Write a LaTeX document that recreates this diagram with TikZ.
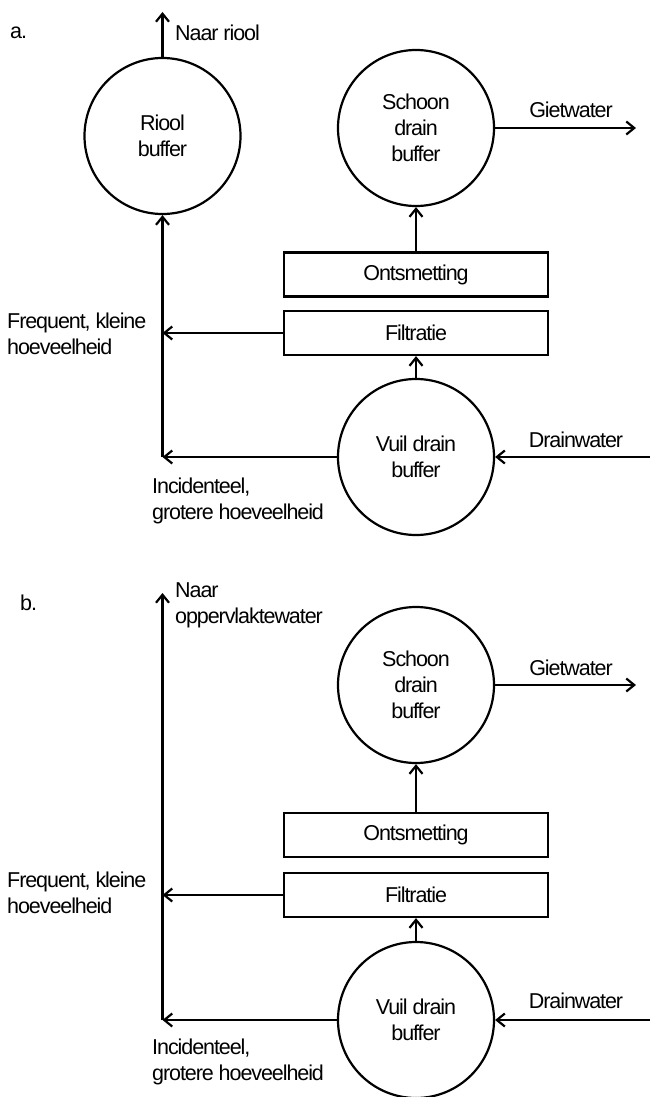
\documentclass[tikz,border=0pt]{standalone}
\usepackage{fontspec}
\setmainfont{Liberation Sans}[LetterSpace=-5]
\usetikzlibrary{arrows.meta}
\newcommand\dfont{\fontsize{21.5}{26}\selectfont}
\begin{document}
\begin{tikzpicture}[x=1pt,y=-1pt,
  buf/.style={circle,draw,line width=2.2pt,minimum size=156pt,inner sep=0pt,align=center,font=\dfont},
  proc/.style={rectangle,draw,line width=2.2pt,minimum width=264pt,minimum height=44pt,inner sep=0pt,font=\dfont},
  lbl/.style={inner sep=0pt,align=left,font=\dfont},
  arr/.style={line width=2.2pt,-{Straight Barb[length=8pt,width=13pt]}}
]
\useasboundingbox (0,0) rectangle (650,1097);

% ---------------- panel a ----------------
\node[lbl,anchor=west] (la) at (10,33) {a.};
\node[buf] (rioolA) at (162.5,136) {Riool\\buffer};
\node[buf] (schoonA) at (416,128) {Schoon\\drain\\buffer};
\node[proc] (ontA) at (416,274.5) {Ontsmetting};
\node[proc] (filA) at (416,333) {Filtratie};
\node[buf] (vuilA) at (416,457) {Vuil drain\\buffer};
\coordinate (cornerA) at (162.5,457);
\coordinate (naarA) at (162.5,12);
\coordinate (gietA) at (636,128);
\coordinate (drainA) at (651,457);
\coordinate (freqA) at (162.5,333);

\node[lbl,anchor=west] (tNaarA) at (175,33) {Naar riool};
\node[lbl] (tGietA) at (571,110) {Gietwater};
\node[lbl] (tDrainA) at (576,440) {Drainwater};
\node[lbl,anchor=west] (tFreqA) at (7,334) {Frequent, kleine\\hoeveelheid};
\node[lbl,anchor=west] (tIncA) at (152,501) {Incidenteel,\\grotere hoeveelheid};

\draw[arr] (rioolA.north) -- (naarA);
\draw[arr] (schoonA.east) -- (gietA);
\draw[arr] (ontA.north) -- (schoonA.south);
\draw[arr] (vuilA.north) -- (filA.south);
\draw[arr] (filA.west) -- (freqA);
\draw[arr] (vuilA.west) -- (cornerA);
\draw[arr] (cornerA) -- (rioolA.south);
\draw[arr] (drainA) -- (vuilA.east);

% ---------------- panel b ----------------
\node[lbl,anchor=west] (lb) at (20,603) {b.};
\node[buf] (schoonB) at (416,685) {Schoon\\drain\\buffer};
\node[proc] (ontB) at (416,835) {Ontsmetting};
\node[proc] (filB) at (416,895) {Filtratie};
\node[buf] (vuilB) at (416,1020) {Vuil drain\\buffer};
\coordinate (cornerB) at (162.5,1020);
\coordinate (naarB) at (162.5,593);
\coordinate (gietB) at (636,685);
\coordinate (drainB) at (651,1020);
\coordinate (freqB) at (162.5,895);

\node[lbl,anchor=west] (tNaarB) at (175,605.5) {Naar\\oppervlaktewater};
\node[lbl] (tGietB) at (571,668) {Gietwater};
\node[lbl] (tDrainB) at (576,1001) {Drainwater};
\node[lbl,anchor=west] (tFreqB) at (7,893) {Frequent, kleine\\hoeveelheid};
\node[lbl,anchor=west] (tIncB) at (152,1062) {Incidenteel,\\grotere hoeveelheid};

\draw[arr] (schoonB.east) -- (gietB);
\draw[arr] (ontB.north) -- (schoonB.south);
\draw[arr] (vuilB.north) -- (filB.south);
\draw[arr] (filB.west) -- (freqB);
\draw[arr] (vuilB.west) -- (cornerB);
\draw[arr] (cornerB) -- (naarB);
\draw[arr] (drainB) -- (vuilB.east);
\end{tikzpicture}
\end{document}
